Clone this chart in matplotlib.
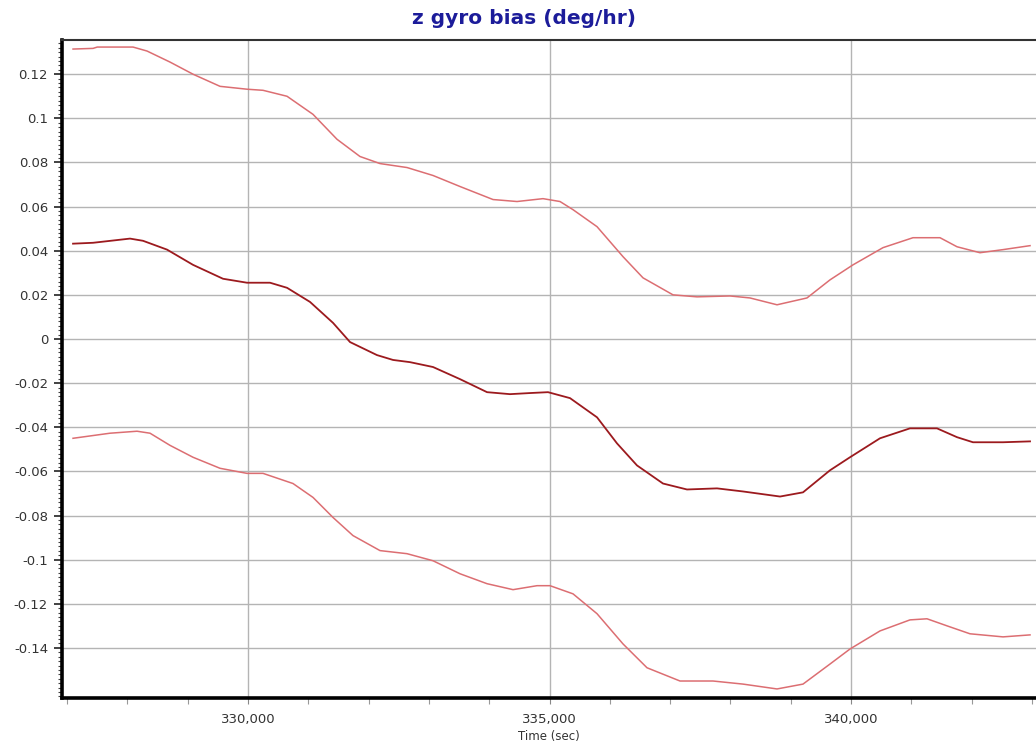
import matplotlib
matplotlib.use("Agg")
import matplotlib.pyplot as plt
from matplotlib.ticker import FuncFormatter, MultipleLocator

# ---- data ----
t_mid = [327098, 327430, 328043, 328259, 328657, 329088, 329585, 329983, 330365, 330647,
         331028, 331410, 331692, 332139, 332405, 332687, 333068, 333516, 333964, 334345,
         334677, 334975, 335340, 335788, 336119, 336451, 336882, 337280, 337778, 338209,
         338823, 339204, 339652, 339983, 340481, 340978, 341426, 341758, 342023, 342521, 342969]
bias_mid = [0.0432, 0.0436, 0.0455, 0.0445, 0.0405, 0.0336, 0.0273, 0.0255, 0.0255, 0.0232,
            0.0168, 0.0073, -0.0014, -0.0073, -0.0095, -0.0105, -0.0127, -0.0182, -0.0241, -0.0250,
            -0.0245, -0.0241, -0.0268, -0.0355, -0.0473, -0.0573, -0.0655, -0.0682, -0.0677, -0.0691,
            -0.0714, -0.0695, -0.0595, -0.0536, -0.0450, -0.0405, -0.0405, -0.0445, -0.0468, -0.0468, -0.0464]

t_up = [327098, 327430, 327500, 328093, 328325, 328706, 329088, 329536, 329983, 330249,
        330647, 331078, 331476, 331857, 332189, 332637, 333068, 333516, 334063, 334461,
        334892, 335174, 335390, 335788, 336219, 336551, 337048, 337446, 337993, 338325,
        338773, 339270, 339652, 340033, 340531, 341028, 341476, 341758, 342139, 342521, 342969]
bias_up = [0.1314, 0.1317, 0.1323, 0.1323, 0.1305, 0.1255, 0.1200, 0.1145, 0.1132, 0.1127,
           0.1100, 0.1018, 0.0905, 0.0827, 0.0795, 0.0777, 0.0741, 0.0691, 0.0632, 0.0623,
           0.0636, 0.0623, 0.0586, 0.0509, 0.0373, 0.0277, 0.0200, 0.0191, 0.0195, 0.0186,
           0.0155, 0.0186, 0.0268, 0.0336, 0.0414, 0.0459, 0.0459, 0.0418, 0.0391, 0.0405, 0.0423]

t_lo = [327098, 327711, 328159, 328375, 328706, 329088, 329536, 329983, 330249, 330746,
        331078, 331410, 331741, 332189, 332637, 333068, 333516, 333964, 334395, 334793,
        335008, 335390, 335788, 336219, 336617, 337164, 337711, 338209, 338773, 339204,
        339652, 339983, 340481, 340978, 341260, 341592, 341973, 342521, 342969]
bias_lo = [-0.0450, -0.0427, -0.0418, -0.0427, -0.0482, -0.0536, -0.0586, -0.0609, -0.0609, -0.0655,
           -0.0718, -0.0809, -0.0891, -0.0959, -0.0973, -0.1005, -0.1064, -0.1109, -0.1136, -0.1118,
           -0.1118, -0.1155, -0.1245, -0.1382, -0.1490, -0.1550, -0.1550, -0.1564, -0.1586, -0.1564,
           -0.1473, -0.1405, -0.1323, -0.1273, -0.1268, -0.1300, -0.1336, -0.1350, -0.1341]

x_ticks = [330000, 335000, 340000]
y_ticks = [0.12, 0.1, 0.08, 0.06, 0.04, 0.02, 0, -0.02, -0.04, -0.06, -0.08, -0.1, -0.12, -0.14]
title = "z gyro bias (deg/hr)"
xlabel = "Time (sec)"

# ---- figure ----
fig = plt.figure(figsize=(10.36, 7.53), dpi=100)
ax = fig.add_axes([62/1036, 1 - 698/753, 1 - 62/1036, (698 - 40)/753])

ax.plot(t_up, bias_up, color="#dc6e72", lw=1.1, zorder=3)
ax.plot(t_lo, bias_lo, color="#dc6e72", lw=1.1, zorder=3)
ax.plot(t_mid, bias_mid, color="#9c1a1e", lw=1.3, zorder=4)

ax.set_xlim(326915, 343068)
ax.set_ylim(-0.1627, 0.1355)

ax.set_xticks(x_ticks)
ax.xaxis.set_minor_locator(MultipleLocator(1000))
ax.set_yticks(y_ticks)
ax.yaxis.set_minor_locator(MultipleLocator(0.002))

ax.xaxis.set_major_formatter(FuncFormatter(lambda v, p: f"{int(round(v)):,}"))
ax.yaxis.set_major_formatter(FuncFormatter(lambda v, p: "0" if abs(v) < 1e-9 else f"{v:g}"))

ax.grid(True, which="major", color="#b4b4b4", lw=1.0, zorder=0)

ax.spines["right"].set_visible(False)
ax.spines["left"].set_linewidth(2.6)
ax.spines["left"].set_color("black")
ax.spines["bottom"].set_linewidth(2.6)
ax.spines["bottom"].set_color("black")
ax.spines["top"].set_linewidth(1.5)
ax.spines["top"].set_color("#333333")

ax.tick_params(axis="y", which="major", length=6, width=1.2, color="#222222",
               labelsize=9.5, labelcolor="#333333", pad=4)
ax.tick_params(axis="y", which="minor", length=3, width=0.8, color="#444444")
ax.tick_params(axis="x", which="major", length=4, width=0.8, color="#888888",
               labelsize=9.5, labelcolor="#333333", pad=7)
ax.tick_params(axis="x", which="minor", length=4, width=0.8, color="#999999")

for lbl in ax.get_xticklabels() + ax.get_yticklabels():
    lbl.set_family(["DejaVu Sans"])

ax.set_xlabel(xlabel, fontsize=8.5, color="#333333", labelpad=3,
              family=["DejaVu Sans"])

fig.text(524/1036, 1 - 18/753, title, ha="center", va="center",
         fontsize=14.5, fontweight="bold", color="#1c1c9a", family=["DejaVu Sans"])

fig.savefig("out.png", dpi=100, facecolor="white")
